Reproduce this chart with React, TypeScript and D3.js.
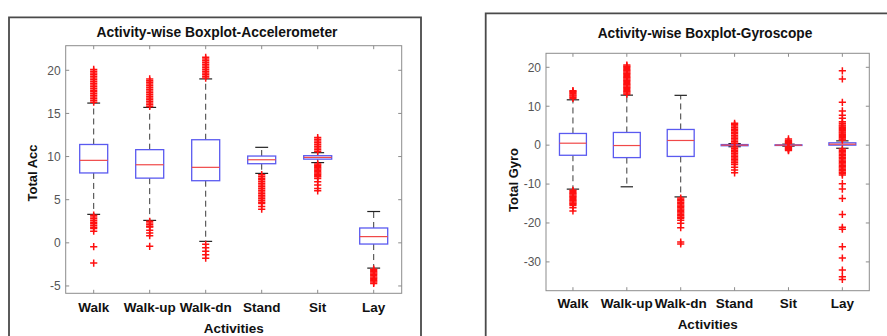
import React from "react";
import * as d3 from "d3";

const activities = ["Walk", "Walk-up", "Walk-dn", "Stand", "Sit", "Lay"];

// Total acceleration per activity: box statistics
const accQ1 = [8.1, 7.5, 7.2, 9.17, 9.7, -0.14];
const accMedian = [9.56, 9.05, 8.75, 9.63, 9.9, 0.72];
const accQ3 = [11.4, 10.8, 11.95, 10.06, 10.1, 1.72];
const accWhiskerLow = [3.3, 2.6, 0.17, 8.05, 9.3, -2.93];
const accWhiskerHigh = [16.2, 15.7, 19.0, 11.07, 10.45, 3.63];
const accOutliers = [
  [
    16.3, 16.5, 16.7, 16.9, 17.1, 17.3, 17.5, 17.7, 17.9, 18.1, 18.3, 18.5, 18.7, 18.9,
    19.1, 19.3, 19.5, 19.7, 19.9, 20.1,
    3.2, 3.0, 2.8, 2.6, 2.4, 2.2, 2.0, 1.8, 1.65, 1.34, -0.44, -2.35,
  ],
  [
    15.8, 16.0, 16.2, 16.4, 16.6, 16.8, 17.0, 17.2, 17.4, 17.6, 17.8, 18.0, 18.2, 18.4,
    18.6, 18.8, 19.0,
    2.5, 2.3, 2.1, 1.9, 1.84, 1.45, 1.14, 0.83, -0.4,
  ],
  [
    19.1, 19.3, 19.5, 19.7, 19.9, 20.1, 20.3, 20.5, 20.7, 20.9, 21.1, 21.3, 21.5,
    -0.17, -0.58, -0.98, -1.38, -1.78,
  ],
  [
    7.9, 7.7, 7.5, 7.3, 7.1, 6.9, 6.7, 6.5, 6.3, 6.1, 5.9, 5.7, 5.5, 5.3, 5.1, 4.9, 4.7,
    4.55, 4.2, 3.9,
  ],
  [
    10.6, 10.8, 11.0, 11.2, 11.4, 11.6, 11.8, 12.0, 12.2,
    9.15, 9.0, 8.85, 8.7, 8.55, 8.4, 8.25, 8.1, 7.95, 7.8, 7.65, 7.46, 7.07, 6.69, 6.3, 6.03,
  ],
  [-3.05, -3.2, -3.35, -3.5, -3.65, -3.8, -3.95, -4.1, -4.25, -4.4, -4.55, -4.7],
];
const accTicks = [-5, 0, 5, 10, 15, 20];
const accDomain = [-5.85, 22.85];

// Total angular velocity per activity: box statistics
const gyroQ1 = [-2.6, -3.2, -2.9, -0.15, -0.08, 0.0];
const gyroMedian = [0.5, -0.1, 1.2, 0.0, 0.0, 0.25];
const gyroQ3 = [3.0, 3.26, 4.03, 0.15, 0.08, 0.6];
const gyroWhiskerLow = [-11.3, -10.7, -13.3, -0.4, -0.25, -0.8];
const gyroWhiskerHigh = [11.65, 12.85, 12.8, 0.4, 0.25, 1.1];
const gyroOutliers = [
  [
    12.0, 12.3, 12.6, 12.9, 13.2, 13.5, 13.8, 14.0,
    -11.6, -11.9, -12.2, -12.5, -12.8, -13.1, -13.4, -13.7, -14.0, -14.3, -14.6, -14.9,
    -15.2, -15.5, -16.1, -16.9,
  ],
  [
    13.1, 13.4, 13.7, 14.0, 14.3, 14.6, 14.9, 15.2, 15.5, 15.8, 16.1, 16.4, 16.7, 17.0,
    17.3, 17.6, 17.9, 18.2, 18.5, 18.8, 19.1, 19.4, 19.7, 20.0, 20.3, 20.6,
  ],
  [
    -13.6, -13.95, -14.3, -14.65, -15.0, -15.35, -15.7, -16.05, -16.4, -16.75, -17.1,
    -17.45, -17.8, -18.15, -18.5, -18.8, -19.3, -20.1, -21.2, -24.9, -25.4,
  ],
  [
    0.5, 0.9, 1.3, 1.7, 2.1, 2.5, 2.9, 3.3, 3.7, 4.1, 4.5, 4.9, 5.3, 5.6,
    -0.5, -0.9, -1.3, -1.7, -2.1, -2.5, -2.9, -3.3, -3.7, -4.1, -4.5, -5.0, -5.7, -6.4,
    -7.1,
  ],
  [0.4, 0.6, 0.8, 1.0, 1.2, 1.6, -0.4, -0.6, -0.8, -1.0, -1.2, -1.4],
  [
    1.3, 1.6, 1.9, 2.2, 2.5, 2.8, 3.1, 3.4, 3.7, 4.0, 4.3, 4.6, 4.9, 5.2, 5.6, 6.0, 6.9,
    7.7, 8.8, 11.0, 17.0, 19.1,
    -1.0, -1.35, -1.7, -2.05, -2.4, -2.75, -3.1, -3.45, -3.8, -4.15, -4.5, -4.85, -5.2,
    -5.55, -5.9, -6.25, -6.6, -6.95, -7.3, -7.7, -9.9, -11.3, -13.7, -17.8, -21.1,
    -21.6, -26.1, -29.0, -32.1, -33.8, -34.5,
  ],
];
const gyroTicks = [-30, -20, -10, 0, 10, 20];
const gyroDomain = [-37.4, 23.6];

const FONT = "'Liberation Sans', Arial, sans-serif";

type Layout = {
  plot: { x0: number; x1: number; y0: number; y1: number };
  frame: { x: number; y: number; w: number };
  title: { x: number; y: number; len: number };
  yLabel: { x: number; y: number };
  xLabelY: number;
  catY: number;
};

type PanelProps = {
  title: string;
  yLabel: string;
  q1: number[];
  median: number[];
  q3: number[];
  whiskerLow: number[];
  whiskerHigh: number[];
  outliers: number[][];
  ticks: number[];
  domain: number[];
  layout: Layout;
};

function Panel(p: PanelProps) {
  const { plot, frame } = p.layout;
  const x = d3
    .scalePoint<string>()
    .domain(activities)
    .range([plot.x0, plot.x1])
    .padding(0.5);
  const y = d3.scaleLinear().domain(p.domain).range([plot.y1, plot.y0]);
  const step = x.step();
  const boxW = step * 0.5;
  const capW = boxW * 0.46;
  const tickLen = 3.5;
  const m = 3.6;

  return (
    <g>
      {/* figure frame */}
      <path
        d={`M${frame.x},340 V${frame.y} H${frame.x + frame.w} V340`}
        fill="none"
        stroke="#4a4a4a"
        strokeWidth={1.8}
      />
      <text
        x={p.layout.title.x}
        y={p.layout.title.y}
        textAnchor="middle"
        fontFamily={FONT}
        fontWeight="bold"
        fontSize={14}
        fill="#111"
        textLength={p.layout.title.len}
        lengthAdjust="spacingAndGlyphs"
      >
        {p.title}
      </text>

      {/* axes box */}
      <rect
        x={plot.x0}
        y={plot.y0}
        width={plot.x1 - plot.x0}
        height={plot.y1 - plot.y0}
        fill="#fff"
        stroke="#8c8c8c"
        strokeWidth={1}
      />
      {activities.map((a) => (
        <g key={"xt" + a}>
          <line x1={x(a)} x2={x(a)} y1={plot.y1} y2={plot.y1 - tickLen} stroke="#8c8c8c" />
          <line x1={x(a)} x2={x(a)} y1={plot.y0} y2={plot.y0 + tickLen} stroke="#8c8c8c" />
          <text
            x={x(a)}
            y={p.layout.catY}
            textAnchor="middle"
            fontFamily={FONT}
            fontWeight="bold"
            fontSize={13.5}
            fill="#111"
          >
            {a}
          </text>
        </g>
      ))}
      {p.ticks.map((t) => (
        <g key={"yt" + t}>
          <line x1={plot.x0} x2={plot.x0 + tickLen} y1={y(t)} y2={y(t)} stroke="#8c8c8c" />
          <line x1={plot.x1} x2={plot.x1 - tickLen} y1={y(t)} y2={y(t)} stroke="#8c8c8c" />
          <text
            x={plot.x0 - 5}
            y={y(t)}
            dy="0.36em"
            textAnchor="end"
            fontFamily={FONT}
            fontSize={12}
            fill="#555"
          >
            {t}
          </text>
        </g>
      ))}
      <text
        transform={`translate(${p.layout.yLabel.x},${p.layout.yLabel.y}) rotate(-90)`}
        textAnchor="middle"
        fontFamily={FONT}
        fontWeight="bold"
        fontSize={13}
        fill="#111"
      >
        {p.yLabel}
      </text>
      <text
        x={(plot.x0 + plot.x1) / 2}
        y={p.layout.xLabelY}
        textAnchor="middle"
        fontFamily={FONT}
        fontWeight="bold"
        fontSize={13.5}
        fill="#111"
      >
        Activities
      </text>

      {/* boxes */}
      {activities.map((a, i) => {
        const cx = x(a) as number;
        return (
          <g key={"box" + a}>
            <line
              x1={cx}
              x2={cx}
              y1={y(p.q3[i])}
              y2={y(p.whiskerHigh[i])}
              stroke="#3a3a3a"
              strokeWidth={1}
              strokeDasharray="6,4"
            />
            <line
              x1={cx}
              x2={cx}
              y1={y(p.q1[i])}
              y2={y(p.whiskerLow[i])}
              stroke="#3a3a3a"
              strokeWidth={1}
              strokeDasharray="6,4"
            />
            <line
              x1={cx - capW / 2}
              x2={cx + capW / 2}
              y1={y(p.whiskerHigh[i])}
              y2={y(p.whiskerHigh[i])}
              stroke="#222"
              strokeWidth={1.2}
            />
            <line
              x1={cx - capW / 2}
              x2={cx + capW / 2}
              y1={y(p.whiskerLow[i])}
              y2={y(p.whiskerLow[i])}
              stroke="#222"
              strokeWidth={1.2}
            />
            <rect
              x={cx - boxW / 2}
              y={y(p.q3[i])}
              width={boxW}
              height={Math.max(0.5, y(p.q1[i]) - y(p.q3[i]))}
              fill="none"
              stroke="#5a5af0"
              strokeWidth={1.3}
            />
            <line
              x1={cx - boxW / 2}
              x2={cx + boxW / 2}
              y1={y(p.median[i])}
              y2={y(p.median[i])}
              stroke="#f04848"
              strokeWidth={1.2}
            />
            {p.outliers[i].map((v, j) => (
              <path
                key={j}
                d={`M${cx - m},${y(v)}H${cx + m}M${cx},${y(v) - m}V${y(v) + m}`}
                stroke="#ff1010"
                strokeWidth={1.5}
                fill="none"
              />
            ))}
          </g>
        );
      })}
    </g>
  );
}

export default function App() {
  return (
    <svg
      width={887}
      height={336}
      style={{ position: "absolute", left: 0, top: 0, background: "#fff" }}
    >
      <rect width={887} height={336} fill="#fff" />
      <Panel
        title="Activity-wise Boxplot-Accelerometer"
        yLabel="Total Acc"
        q1={accQ1}
        median={accMedian}
        q3={accQ3}
        whiskerLow={accWhiskerLow}
        whiskerHigh={accWhiskerHigh}
        outliers={accOutliers}
        ticks={accTicks}
        domain={accDomain}
        layout={{
          plot: { x0: 65.7, x1: 401.7, y0: 45.7, y1: 293.3 },
          frame: { x: 9, y: 17.3, w: 412 },
          title: { x: 217, y: 37.3, len: 241 },
          yLabel: { x: 37.3, y: 173 },
          xLabelY: 332.7,
          catY: 311.7,
        }}
      />
      <Panel
        title="Activity-wise Boxplot-Gyroscope"
        yLabel="Total Gyro"
        q1={gyroQ1}
        median={gyroMedian}
        q3={gyroQ3}
        whiskerLow={gyroWhiskerLow}
        whiskerHigh={gyroWhiskerHigh}
        outliers={gyroOutliers}
        ticks={gyroTicks}
        domain={gyroDomain}
        layout={{
          plot: { x0: 546, x1: 869.3, y0: 53.3, y1: 290.7 },
          frame: { x: 485.7, y: 13.3, w: 420 },
          title: { x: 705, y: 38.3, len: 214.6 },
          yLabel: { x: 518, y: 180 },
          xLabelY: 329.3,
          catY: 308.3,
        }}
      />
    </svg>
  );
}
